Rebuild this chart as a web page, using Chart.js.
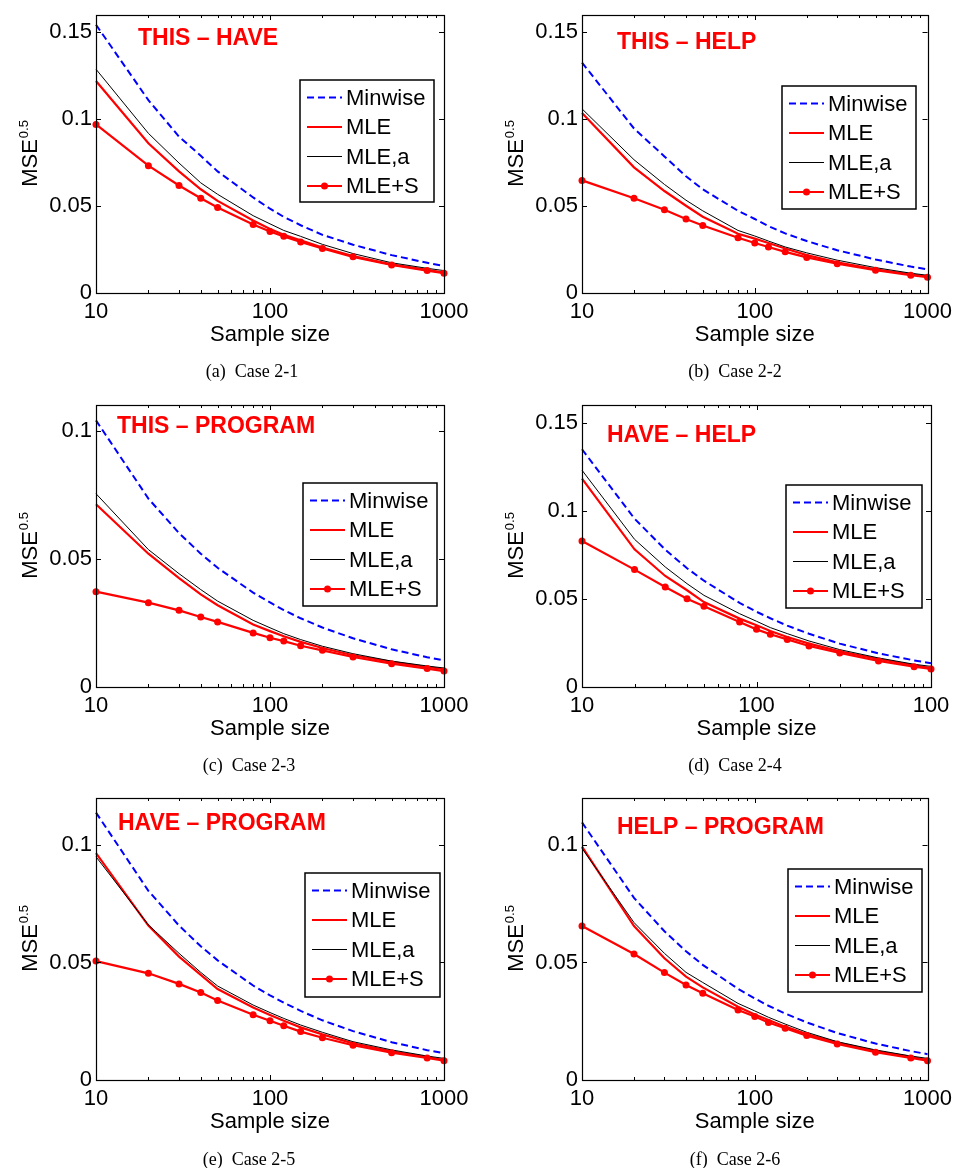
<!DOCTYPE html>
<html>
<head>
<meta charset="utf-8">
<script src="https://cdn.jsdelivr.net/npm/chart.js@4.4.0/dist/chart.umd.min.js"></script>
<style>
  body { margin: 0; background: #fff; }
  #page { position: relative; width: 958px; height: 1168px; overflow: hidden; background: #fff; }
  #page canvas { position: absolute; }
  .caption { position: absolute; width: 300px; text-align: center; font-family: "Liberation Serif", "Times New Roman", serif; font-size: 18px; line-height: 18px; color: #000; }
</style>
</head>
<body>
<div id="page"></div>
<script>
// shared x values and tick labels
const sampleSizes = [10, 20, 30, 40, 50, 80, 100, 120, 150, 200, 300, 500, 800, 1000];
const xMajorTicks = [10, 100, 1000];
const xMinorTicks = [20, 30, 40, 50, 60, 70, 80, 90, 200, 300, 400, 500, 600, 700, 800, 900];
const xTickLabels = ['10', '100', '1000'];
const xTickLabelsD = ['10', '100', '100'];
const yTicksHigh = [0, 0.05, 0.1, 0.15];
const yTicksLow = [0, 0.05, 0.1];
const yTickLabels = ['0', '0.05', '0.1', '0.15'];
const seriesNames = ['Minwise', 'MLE', 'MLE,a', 'MLE+S'];

// Case 2-1
const minwise21 = [0.1544, 0.111, 0.090, 0.079, 0.070, 0.055, 0.0485, 0.0438, 0.039, 0.0335, 0.0278, 0.0218, 0.0174, 0.0155];
const mle21     = [0.122, 0.0862, 0.070, 0.0597, 0.053, 0.0417, 0.0369, 0.0335, 0.0303, 0.0261, 0.0212, 0.0165, 0.0133, 0.0117];
const mlea21    = [0.1288, 0.0919, 0.0748, 0.0634, 0.0568, 0.0445, 0.0398, 0.036, 0.0326, 0.028, 0.0227, 0.0174, 0.0142, 0.0129];
const mles21    = [0.097, 0.0733, 0.0619, 0.0545, 0.0492, 0.0394, 0.0354, 0.0326, 0.0294, 0.0256, 0.0208, 0.0161, 0.0129, 0.0114];

// Case 2-2
const minwise22 = [0.1326, 0.0947, 0.0786, 0.0672, 0.0597, 0.0473, 0.0426, 0.0385, 0.0343, 0.0299, 0.0246, 0.0193, 0.0152, 0.0136];
const mle22     = [0.1036, 0.0723, 0.0587, 0.0502, 0.0439, 0.0341, 0.0313, 0.0288, 0.0256, 0.0218, 0.0176, 0.0136, 0.0108, 0.0095];
const mlea22    = [0.106, 0.0767, 0.0625, 0.0534, 0.0473, 0.036, 0.0328, 0.0299, 0.0265, 0.0231, 0.0189, 0.0146, 0.0114, 0.0102];
const mles22    = [0.0648, 0.0545, 0.0479, 0.0426, 0.0388, 0.0318, 0.0288, 0.0265, 0.0237, 0.0205, 0.0169, 0.0131, 0.0102, 0.0091];

// Case 2-3
const minwise23 = [0.104, 0.0735, 0.060, 0.052, 0.0465, 0.0368, 0.033, 0.030, 0.0268, 0.0232, 0.019, 0.0147, 0.0116, 0.0104];
const mle23     = [0.0713, 0.052, 0.0425, 0.0361, 0.0319, 0.0244, 0.0218, 0.0198, 0.0176, 0.0152, 0.0124, 0.0098, 0.0078, 0.007];
const mlea23    = [0.0754, 0.0536, 0.0442, 0.038, 0.0335, 0.026, 0.0231, 0.0208, 0.0185, 0.0159, 0.013, 0.0101, 0.0082, 0.0074];
const mles23    = [0.0372, 0.0329, 0.0299, 0.0273, 0.0254, 0.0211, 0.0192, 0.0179, 0.0161, 0.0143, 0.0117, 0.0091, 0.0072, 0.0062];

// Case 2-4
const minwise24 = [0.1349, 0.0955, 0.0779, 0.0674, 0.0603, 0.0477, 0.0427, 0.039, 0.0348, 0.0302, 0.0246, 0.0191, 0.0151, 0.0135];
const mle24     = [0.1182, 0.0781, 0.063, 0.0549, 0.0482, 0.0388, 0.035, 0.0318, 0.0284, 0.0246, 0.0202, 0.0159, 0.0123, 0.0108];
const mlea24    = [0.123, 0.0838, 0.0681, 0.0586, 0.052, 0.0416, 0.0373, 0.0337, 0.0303, 0.0261, 0.0212, 0.0165, 0.0129, 0.0117];
const mles24    = [0.0828, 0.0666, 0.0567, 0.0501, 0.0458, 0.0369, 0.0327, 0.0299, 0.027, 0.0233, 0.0193, 0.0148, 0.0115, 0.0102];

// Case 2-5
const minwise25 = [0.1138, 0.0805, 0.0657, 0.0569, 0.0509, 0.0402, 0.036, 0.0329, 0.0294, 0.0254, 0.0208, 0.0161, 0.0127, 0.0114];
const mle25     = [0.0965, 0.0657, 0.0525, 0.0447, 0.0387, 0.0309, 0.0277, 0.0252, 0.0224, 0.0194, 0.0156, 0.0122, 0.0098, 0.0085];
const mlea25    = [0.095, 0.066, 0.0539, 0.0458, 0.040, 0.0319, 0.0287, 0.0262, 0.0234, 0.0203, 0.0163, 0.0128, 0.0102, 0.0092];
const mles25    = [0.0506, 0.0454, 0.0409, 0.0372, 0.0338, 0.0278, 0.0252, 0.0231, 0.0206, 0.018, 0.0148, 0.0116, 0.0094, 0.0082];

// Case 2-6
const minwise26 = [0.1096, 0.0775, 0.0633, 0.0548, 0.049, 0.0388, 0.0347, 0.0316, 0.0283, 0.0245, 0.02, 0.0155, 0.0123, 0.011];
const mle26     = [0.0993, 0.0655, 0.0518, 0.044, 0.0394, 0.0312, 0.0279, 0.0255, 0.0227, 0.0196, 0.0159, 0.0123, 0.0099, 0.0085];
const mlea26    = [0.0986, 0.067, 0.0539, 0.0458, 0.0415, 0.0326, 0.0294, 0.0267, 0.0238, 0.0203, 0.0163, 0.0128, 0.0102, 0.0092];
const mles26    = [0.0655, 0.0536, 0.0457, 0.0404, 0.0369, 0.0298, 0.027, 0.0245, 0.022, 0.0189, 0.0153, 0.0118, 0.0094, 0.0082];

const FONT = '"Liberation Sans", Arial, Helvetica, sans-serif';
const CANVAS_W = 479;
const CANVAS_H = 365;
const XAXIS_H = 57;

const panels = [
  { x: 0, y: 0, area: { left: 96, top: 12, right: 444, bottom: 293 }, ymax: 0.16, yTicks: yTicksHigh,
    tag: 'THIS – HAVE', tagPos: [138, 44.5], legendBox: { x: 300, y: 80, w: 134, h: 122 },
    caption: '(a)&nbsp; Case 2-1', capX: 252, capY: 362, xLabels: xTickLabels,
    series: [minwise21, mle21, mlea21, mles21] },
  { x: 479, y: 0, area: { left: 103, top: 12, right: 452, bottom: 293 }, ymax: 0.16, yTicks: yTicksHigh,
    tag: 'THIS – HELP', tagPos: [138, 49], legendBox: { x: 303, y: 86, w: 134, h: 123 },
    caption: '(b)&nbsp; Case 2-2', capX: 735, capY: 362, xLabels: xTickLabels,
    series: [minwise22, mle22, mlea22, mles22] },
  { x: 0, y: 390, area: { left: 96, top: 15, right: 444, bottom: 297 }, ymax: 0.11, yTicks: yTicksLow,
    tag: 'THIS – PROGRAM', tagPos: [117, 42.5], legendBox: { x: 303, y: 93, w: 134, h: 123 },
    caption: '(c)&nbsp; Case 2-3', capX: 249, capY: 756, xLabels: xTickLabels,
    series: [minwise23, mle23, mlea23, mles23] },
  { x: 479, y: 390, area: { left: 103, top: 15, right: 452, bottom: 297 }, ymax: 0.16, yTicks: yTicksHigh,
    tag: 'HAVE – HELP', tagPos: [128, 51.5], legendBox: { x: 307, y: 95, w: 136, h: 123 },
    caption: '(d)&nbsp; Case 2-4', capX: 735, capY: 756, xLabels: xTickLabelsD,
    series: [minwise24, mle24, mlea24, mles24] },
  { x: 0, y: 780, area: { left: 96, top: 18, right: 444, bottom: 300 }, ymax: 0.12, yTicks: yTicksLow,
    tag: 'HAVE – PROGRAM', tagPos: [118, 49.5], legendBox: { x: 305, y: 93, w: 135, h: 124 },
    caption: '(e)&nbsp; Case 2-5', capX: 249, capY: 1150, xLabels: xTickLabels,
    series: [minwise25, mle25, mlea25, mles25] },
  { x: 479, y: 780, area: { left: 103, top: 18, right: 452, bottom: 300 }, ymax: 0.12, yTicks: yTicksLow,
    tag: 'HELP – PROGRAM', tagPos: [138, 53.5], legendBox: { x: 309, y: 89, w: 134, h: 123 },
    caption: '(f)&nbsp; Case 2-6', capX: 735, capY: 1150, xLabels: xTickLabels,
    series: [minwise26, mle26, mlea26, mles26] }
];

// line styles per series, same order as seriesNames
const seriesStyles = [
  { borderColor: '#0000ff', borderWidth: 2, borderDash: [7, 4], pointRadius: 0, order: 3 },
  { borderColor: '#ff0000', borderWidth: 2.2, borderDash: [], pointRadius: 0, order: 2 },
  { borderColor: '#000000', borderWidth: 1, borderDash: [], pointRadius: 0, order: 1 },
  { borderColor: '#ff0000', borderWidth: 2.2, borderDash: [], pointRadius: 3.5, order: 0 }
];

// matlab-style box, inward ticks, y label, red tag and legend
const matlabAxes = {
  id: 'matlabAxes',
  afterDatasetsDraw(chart, args, opts) {
    const ctx = chart.ctx;
    const a = chart.chartArea;
    const xs = chart.scales.x;
    const ys = chart.scales.y;
    ctx.save();
    ctx.strokeStyle = '#000';
    ctx.lineWidth = 1;
    ctx.beginPath();
    xs.ticks.forEach(t => {
      const px = Math.round(xs.getPixelForValue(t.value)) + 0.5;
      const len = t.major ? 5 : 3;
      ctx.moveTo(px, a.bottom); ctx.lineTo(px, a.bottom - len);
      ctx.moveTo(px, a.top); ctx.lineTo(px, a.top + len);
    });
    ys.ticks.forEach(t => {
      const py = Math.round(ys.getPixelForValue(t.value)) + 0.5;
      ctx.moveTo(a.left, py); ctx.lineTo(a.left + 5, py);
      ctx.moveTo(a.right, py); ctx.lineTo(a.right - 5, py);
    });
    ctx.stroke();
    ctx.lineWidth = 1.2;
    ctx.strokeRect(Math.round(a.left) + 0.5, Math.round(a.top) + 0.5,
      Math.round(a.right - a.left), Math.round(a.bottom - a.top));
    ctx.restore();
  },
  afterDraw(chart, args, opts) {
    const ctx = chart.ctx;
    const a = chart.chartArea;

    // y axis title with superscript
    ctx.save();
    ctx.fillStyle = '#000';
    ctx.translate(a.left - 59, (a.top + a.bottom) / 2);
    ctx.rotate(-Math.PI / 2);
    ctx.textBaseline = 'alphabetic';
    ctx.font = '22px ' + FONT;
    const w1 = ctx.measureText('MSE').width;
    ctx.font = '13px ' + FONT;
    const w2 = ctx.measureText('0.5').width;
    const x0 = -(w1 + w2) / 2;
    ctx.font = '22px ' + FONT;
    ctx.fillText('MSE', x0, 0);
    ctx.font = '13px ' + FONT;
    ctx.fillText('0.5', x0 + w1 + 1, -9);
    ctx.restore();

    // red tag
    ctx.save();
    ctx.fillStyle = '#ff0000';
    ctx.font = 'bold 23px ' + FONT;
    ctx.textBaseline = 'alphabetic';
    ctx.fillText(opts.tag, opts.tagPos[0], opts.tagPos[1]);
    ctx.restore();

    // legend box
    const b = opts.legendBox;
    ctx.save();
    ctx.fillStyle = '#fff';
    ctx.fillRect(b.x, b.y, b.w, b.h);
    ctx.strokeStyle = '#000';
    ctx.lineWidth = 1.5;
    ctx.strokeRect(b.x, b.y, b.w, b.h);
    ctx.font = '22px ' + FONT;
    ctx.textBaseline = 'middle';
    chart.data.datasets.forEach((ds, i) => {
      const cy = b.y + 17.5 + i * 29.5;
      const lx0 = b.x + 7, lx1 = b.x + 42;
      ctx.strokeStyle = ds.borderColor;
      ctx.lineWidth = ds.borderWidth;
      ctx.setLineDash(ds.borderDash || []);
      ctx.beginPath();
      ctx.moveTo(lx0, cy); ctx.lineTo(lx1, cy);
      ctx.stroke();
      ctx.setLineDash([]);
      if (ds.pointRadius > 0) {
        ctx.fillStyle = ds.pointBackgroundColor;
        ctx.beginPath();
        ctx.arc((lx0 + lx1) / 2, cy, ds.pointRadius, 0, Math.PI * 2);
        ctx.fill();
      }
      ctx.fillStyle = '#000';
      ctx.fillText(ds.label, b.x + 46, cy + 1);
    });
    ctx.restore();
  }
};

const page = document.getElementById('page');

function makePanel(p) {
  const canvas = document.createElement('canvas');
  canvas.width = CANVAS_W;
  canvas.height = CANVAS_H;
  canvas.style.left = p.x + 'px';
  canvas.style.top = p.y + 'px';
  page.appendChild(canvas);

  const datasets = seriesNames.map((name, i) => Object.assign({
    label: name,
    data: sampleSizes.map((n, k) => ({ x: n, y: p.series[i][k] })),
    pointBackgroundColor: seriesStyles[i].borderColor,
    pointBorderWidth: 0,
    tension: 0,
    fill: false,
    clip: false
  }, seriesStyles[i]));

  new Chart(canvas.getContext('2d'), {
    type: 'line',
    data: { datasets: datasets },
    options: {
      responsive: false,
      animation: false,
      devicePixelRatio: 1,
      layout: {
        padding: { left: 0, top: p.area.top, right: CANVAS_W - p.area.right, bottom: CANVAS_H - p.area.bottom - XAXIS_H }
      },
      plugins: {
        legend: { display: false },
        tooltip: { enabled: false },
        matlabAxes: { tag: p.tag, tagPos: p.tagPos, legendBox: p.legendBox }
      },
      scales: {
        x: {
          type: 'logarithmic',
          min: 10,
          max: 1000,
          grid: { display: false, drawTicks: false },
          border: { display: false },
          afterBuildTicks: s => {
            s.ticks = xMajorTicks.concat(xMinorTicks).sort((u, v) => u - v)
              .map(v => ({ value: v, major: xMajorTicks.includes(v) }));
          },
          afterFit: s => { s.height = XAXIS_H; },
          ticks: {
            autoSkip: false,
            maxRotation: 0,
            padding: 6,
            color: '#000',
            font: { family: FONT, size: 22 },
            callback: v => {
              const i = xMajorTicks.indexOf(v);
              return i >= 0 ? p.xLabels[i] : '';
            }
          },
          title: {
            display: true,
            text: 'Sample size',
            color: '#000',
            font: { family: FONT, size: 22 },
            padding: { top: 0, bottom: 2 }
          }
        },
        y: {
          type: 'linear',
          min: 0,
          max: p.ymax,
          grid: { display: false, drawTicks: false },
          border: { display: false },
          afterBuildTicks: s => { s.ticks = p.yTicks.map(v => ({ value: v })); },
          afterFit: s => { s.width = p.area.left; },
          ticks: {
            padding: 4,
            color: '#000',
            font: { family: FONT, size: 22, lineHeight: 1 },
            callback: v => yTickLabels[yTicksHigh.indexOf(v)]
          }
        }
      }
    },
    plugins: [matlabAxes]
  });

  const cap = document.createElement('div');
  cap.className = 'caption';
  cap.innerHTML = p.caption;
  cap.style.left = (p.capX - 150) + 'px';
  cap.style.top = p.capY + 'px';
  page.appendChild(cap);
}

panels.forEach(makePanel);
</script>
</body>
</html>
